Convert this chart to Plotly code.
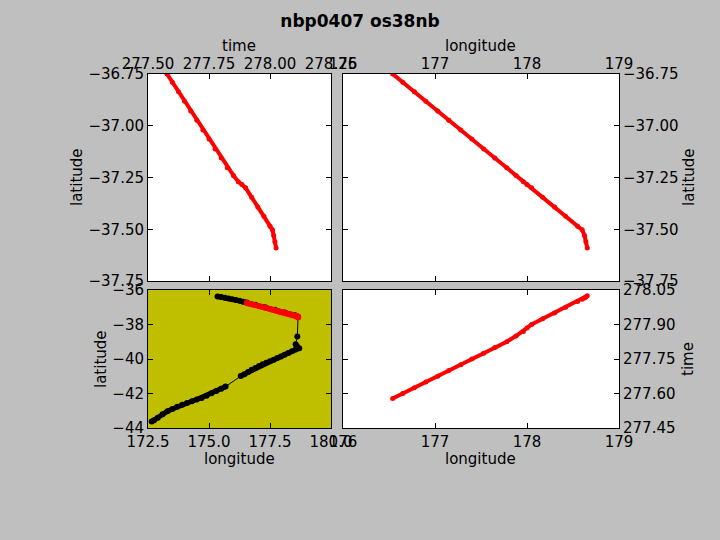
import plotly.graph_objects as go

# ---- red (selected section) track: time, longitude, latitude ----
red_time = [277.578, 277.60, 277.625, 277.65, 277.675, 277.70, 277.725, 277.75,
            277.775, 277.80, 277.825, 277.85, 277.87, 277.885, 277.90, 277.925,
            277.95, 277.975, 278.00, 278.01, 278.015, 278.02, 278.025]
red_lon = [176.54, 176.65, 176.776, 176.90, 177.03, 177.15, 177.28, 177.40,
           177.53, 177.65, 177.78, 177.88, 177.96, 178.00, 178.05, 178.17,
           178.30, 178.42, 178.55, 178.60, 178.625, 178.64, 178.655]
red_lat = [-36.75, -36.79, -36.836, -36.882, -36.929, -36.973, -37.02, -37.064,
           -37.112, -37.156, -37.203, -37.24, -37.27, -37.284, -37.30, -37.346,
           -37.393, -37.437, -37.485, -37.503, -37.53, -37.56, -37.59]

# ---- full cruise track (black) ----
blk_lon = [175.35, 175.5, 175.65, 175.8, 175.95, 176.1, 176.25, 176.4, 176.55,
           176.9, 177.3, 177.7, 178.1, 178.5, 178.65,
           178.62, 178.55, 178.6, 178.7,
           178.55, 178.4, 178.25, 178.1, 177.95, 177.8, 177.65, 177.5, 177.35,
           177.2, 177.05, 176.9, 176.75, 176.6, 176.45, 176.3,
           175.68, 175.5, 175.3, 175.1, 174.9, 174.7, 174.5, 174.3, 174.1,
           173.9, 173.7, 173.5, 173.3, 173.1, 172.9, 172.75, 172.65]
blk_lat = [-36.38, -36.41, -36.45, -36.49, -36.53, -36.58, -36.63, -36.68, -36.73,
           -36.86, -37.0, -37.15, -37.3, -37.45, -37.55,
           -38.7, -39.15, -39.25, -39.38,
           -39.45, -39.55, -39.65, -39.75, -39.85, -39.94, -40.04, -40.13, -40.22,
           -40.31, -40.41, -40.52, -40.63, -40.75, -40.88, -40.99,
           -41.6, -41.72, -41.86, -41.99, -42.13, -42.26, -42.35, -42.45, -42.55,
           -42.65, -42.77, -42.9, -43.03, -43.2, -43.4, -43.55, -43.63]
# index ranges of the densely sampled (continuous) parts of the black track
dense_parts = [(0, 15), (18, 35), (35, 52)]

# ---- tick labels ----
time_ticks_top = [277.50, 277.75, 278.00, 278.25]
time_ticks_top_txt = ["277.50", "277.75", "278.00", "278.25"]
lat_ticks_top = [-36.75, -37.00, -37.25, -37.50, -37.75]
lat_ticks_top_txt = ["−36.75", "−37.00", "−37.25", "−37.50", "−37.75"]
lon_ticks = [176, 177, 178, 179]
lon_ticks_txt = ["176", "177", "178", "179"]
lon_ticks_wide = [172.5, 175.0, 177.5, 180.0]
lon_ticks_wide_txt = ["172.5", "175.0", "177.5", "180.0"]
lat_ticks_wide = [-44, -42, -40, -38, -36]
lat_ticks_wide_txt = ["−44", "−42", "−40", "−38", "−36"]
time_ticks_right = [277.45, 277.60, 277.75, 277.90, 278.05]
time_ticks_right_txt = ["277.45", "277.60", "277.75", "277.90", "278.05"]

W, H = 720, 540
def px(x):
    return x / W
def py(y):
    return 1 - y / H

FONT = dict(family="DejaVu Sans", size=15, color="black")
RED = "#ff0000"

fig = go.Figure()

# panel 1: lat vs time
fig.add_trace(go.Scatter(x=red_time, y=red_lat, xaxis="x", yaxis="y", mode="lines+markers",
                         line=dict(color=RED, width=4), marker=dict(color=RED, size=5),
                         showlegend=False))
# panel 2: lat vs lon
fig.add_trace(go.Scatter(x=red_lon, y=red_lat, xaxis="x2", yaxis="y2", mode="lines+markers",
                         line=dict(color=RED, width=4), marker=dict(color=RED, size=5),
                         showlegend=False))
# panel 3: whole track
thick_x, thick_y = [], []
for a, b in dense_parts:
    thick_x += blk_lon[a:b] + [None]
    thick_y += blk_lat[a:b] + [None]
fig.add_trace(go.Scatter(x=thick_x, y=thick_y, xaxis="x3", yaxis="y3", mode="lines",
                         line=dict(color="black", width=5), connectgaps=False,
                         showlegend=False))
fig.add_trace(go.Scatter(x=blk_lon, y=blk_lat, xaxis="x3", yaxis="y3", mode="lines+markers",
                         line=dict(color="black", width=1), marker=dict(color="black", size=6),
                         showlegend=False))
fig.add_trace(go.Scatter(x=red_lon, y=red_lat, xaxis="x3", yaxis="y3", mode="lines+markers",
                         line=dict(color=RED, width=5), marker=dict(color=RED, size=6),
                         showlegend=False))
# panel 4: time vs lon
fig.add_trace(go.Scatter(x=red_lon, y=red_time, xaxis="x4", yaxis="y4", mode="lines+markers",
                         line=dict(color=RED, width=4), marker=dict(color=RED, size=5),
                         showlegend=False))

def ax(domain, rng, tv, tt, side, anchor, lab_off=0):
    return dict(domain=domain, range=rng, tickvals=tv, ticktext=tt, side=side, anchor=anchor,
                showline=True, linecolor="black", linewidth=1, mirror="ticks",
                ticks="inside", ticklen=5, tickcolor="black", showgrid=False, zeroline=False,
                tickfont=FONT, automargin=False, fixedrange=True, ticklabelstandoff=lab_off)

top_y = [py(281), py(74)]
bot_y = [py(428), py(290)]
left_x = [px(148), px(331)]
right_x = [px(343), px(619)]

# axis titles as annotations placed like the reference
axis_titles = [
    ("time", 239, 46, 0), ("longitude", 481, 46, 0),
    ("latitude", 77, 177, -90), ("latitude", 689, 177, -90),
    ("latitude", 101, 359, -90), ("time", 688, 359, -90),
    ("longitude", 239, 459, 0), ("longitude", 481, 459, 0),
]
annotations = [dict(text=t, x=px(x), y=py(y), xref="paper", yref="paper", showarrow=False,
                    xanchor="center", yanchor="middle", textangle=ang, font=FONT)
               for t, x, y, ang in axis_titles]

fig.update_layout(
    width=W, height=H, autosize=False,
    margin=dict(l=0, r=0, t=0, b=0),
    paper_bgcolor="#bfbfbf",
    plot_bgcolor="white",
    font=FONT,
    title=dict(text="nbp0407 os38nb", x=0.5, xanchor="center", y=py(21), yanchor="middle",
               font=dict(family="DejaVu Sans", size=17, color="black", weight="bold")),
    xaxis=ax(left_x, [277.5, 278.25], time_ticks_top, time_ticks_top_txt, "top", "y", -2),
    yaxis=ax(top_y, [-37.75, -36.75], lat_ticks_top, lat_ticks_top_txt, "left", "x"),
    xaxis2=ax(right_x, [176, 179], lon_ticks, lon_ticks_txt, "top", "y2", -2),
    yaxis2=ax(top_y, [-37.75, -36.75], lat_ticks_top, lat_ticks_top_txt, "right", "x2"),
    xaxis3=ax(left_x, [172.5, 180], lon_ticks_wide, lon_ticks_wide_txt, "bottom", "y3"),
    yaxis3=ax(bot_y, [-44, -36], lat_ticks_wide, lat_ticks_wide_txt, "left", "x3"),
    xaxis4=ax(right_x, [176, 179], lon_ticks, lon_ticks_txt, "bottom", "y4"),
    yaxis4=ax(bot_y, [277.45, 278.05], time_ticks_right, time_ticks_right_txt, "right", "x4"),
    annotations=annotations,
)

# yellow background for panel 3
fig.add_shape(type="rect", xref="x3 domain", yref="y3 domain", x0=0, x1=1, y0=0, y1=1,
              fillcolor="#bfbf00", line=dict(width=0), layer="below")

fig.write_html("out.html", config={"displayModeBar": False},
               post_script="document.body.style.margin='0';document.body.style.overflow='hidden';")
